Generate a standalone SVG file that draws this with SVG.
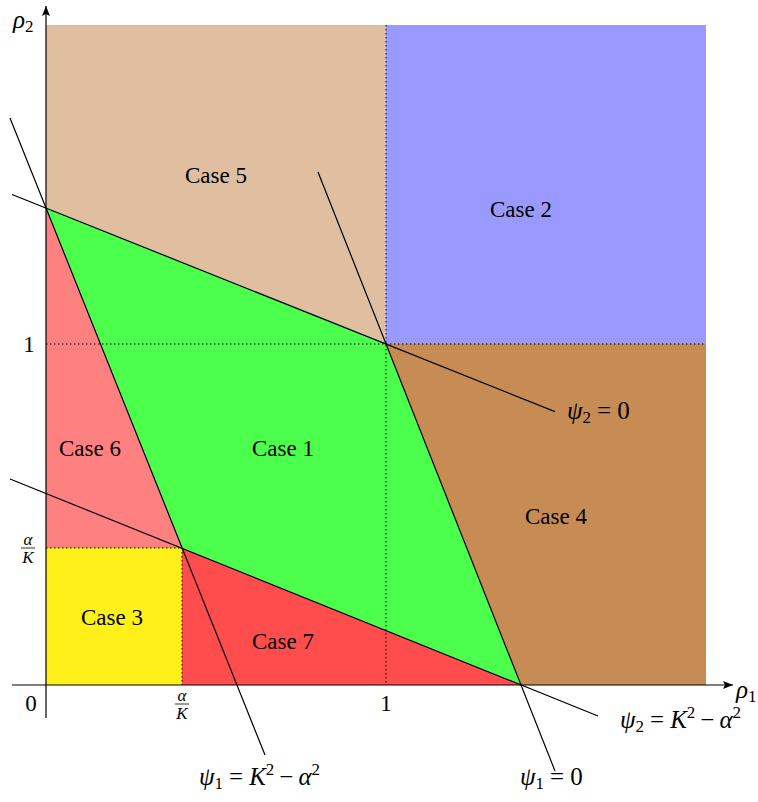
<svg xmlns="http://www.w3.org/2000/svg" width="758" height="802" viewBox="0 0 758 802">
<defs>
<marker id="arr" viewBox="0 0 10 8" refX="10" refY="4" markerWidth="10" markerHeight="8" markerUnits="userSpaceOnUse" orient="auto">
<path d="M0,0 L10,4 L0,8 L2,4 Z" fill="#000"/>
</marker>
</defs>
<style>
text{font-family:"Liberation Serif","DejaVu Serif",serif;font-size:23px;fill:#000}
.lbl{text-anchor:middle}
.it{font-style:italic}
.sub{font-size:16px}
.fr{font-size:17px}
.m{font-size:25px}
.ms{font-size:17px}
.ln{stroke:#000;stroke-width:1.2;fill:none}
.dot{stroke:#000;stroke-width:1;stroke-dasharray:1.5 2.5;fill:none}
</style>
<g id="regions">
<g id="case5"><rect x="46" y="25" width="340" height="319" fill="#DFBF9F"/></g>
<g id="case2"><rect x="386" y="25" width="320" height="319" fill="#9999FF"/></g>
<g id="case4"><rect x="386" y="344" width="320" height="341" fill="#C68C53"/></g>
<g id="case1"><polygon points="46,208 386,344 521,685 182,548" fill="#4DFF4D"/></g>
<g id="case6"><polygon points="46,208 182,548 46,548" fill="#FF8080"/></g>
<g id="case3"><rect x="46" y="548" width="136" height="137" fill="#FFF01A"/></g>
<g id="case7"><polygon points="182,548 521,685 182,685" fill="#FF4D4D"/></g>
</g>
<g id="connectors">
<line class="dot" x1="386" y1="25" x2="386" y2="685"/>
<line class="dot" x1="46" y1="344" x2="706" y2="344"/>
<line class="dot" x1="46" y1="548" x2="182" y2="548"/>
<line class="dot" x1="182" y1="548" x2="182" y2="685"/>
<line class="ln" x1="12" y1="194.5" x2="555" y2="411.6"/>
<line class="ln" x1="318" y1="172" x2="555" y2="771"/>
<line class="ln" x1="10" y1="118" x2="265" y2="755"/>
<line class="ln" x1="10" y1="479" x2="598" y2="716"/>
<line class="ln" x1="12" y1="685" x2="733" y2="685" marker-end="url(#arr)"/>
<line class="ln" x1="46" y1="718" x2="46" y2="6" marker-end="url(#arr)"/>
</g>
<g id="labels">
<text x="13" y="28" class="m"><tspan class="it">ρ</tspan><tspan class="ms" dy="4">2</tspan></text>
<text x="736" y="698" class="m"><tspan class="it">ρ</tspan><tspan class="ms" dy="4">1</tspan></text>
<text x="31" y="711" class="lbl">0</text>
<text x="386" y="711" class="lbl">1</text>
<text x="29" y="352" class="lbl">1</text>
<g id="tickx"><text x="182" y="701" class="lbl it fr">α</text><line x1="175" y1="704" x2="189" y2="704" stroke="#000" stroke-width="0.8"/><text x="182" y="719" class="lbl it fr">K</text></g>
<g id="ticky"><text x="28" y="545" class="lbl it fr">α</text><line x1="21" y1="548" x2="35" y2="548" stroke="#000" stroke-width="0.8"/><text x="28" y="563" class="lbl it fr">K</text></g>
<text x="216" y="183" class="lbl">Case 5</text>
<text x="521" y="217" class="lbl">Case 2</text>
<text x="90" y="456" class="lbl">Case 6</text>
<text x="283" y="456" class="lbl">Case 1</text>
<text x="556" y="524" class="lbl">Case 4</text>
<text x="112" y="625" class="lbl">Case 3</text>
<text x="283" y="649" class="lbl">Case 7</text>
<text x="567" y="419" class="m"><tspan class="it">ψ</tspan><tspan class="ms" dy="4">2</tspan><tspan dx="6" dy="-4">=</tspan><tspan dx="6">0</tspan></text>
<text x="620" y="728" class="m"><tspan class="it">ψ</tspan><tspan class="ms" dy="4">2</tspan><tspan dx="6" dy="-4">=</tspan><tspan dx="6" class="it">K</tspan><tspan class="ms" dy="-10">2</tspan><tspan dx="5" dy="10">−</tspan><tspan dx="5" class="it">α</tspan><tspan class="ms" dy="-10">2</tspan></text>
<text x="520" y="785" class="m"><tspan class="it">ψ</tspan><tspan class="ms" dy="4">1</tspan><tspan dx="6" dy="-4">=</tspan><tspan dx="6">0</tspan></text>
<text x="199" y="785" class="m"><tspan class="it">ψ</tspan><tspan class="ms" dy="4">1</tspan><tspan dx="6" dy="-4">=</tspan><tspan dx="6" class="it">K</tspan><tspan class="ms" dy="-10">2</tspan><tspan dx="5" dy="10">−</tspan><tspan dx="5" class="it">α</tspan><tspan class="ms" dy="-10">2</tspan></text>
</g>
</svg>
